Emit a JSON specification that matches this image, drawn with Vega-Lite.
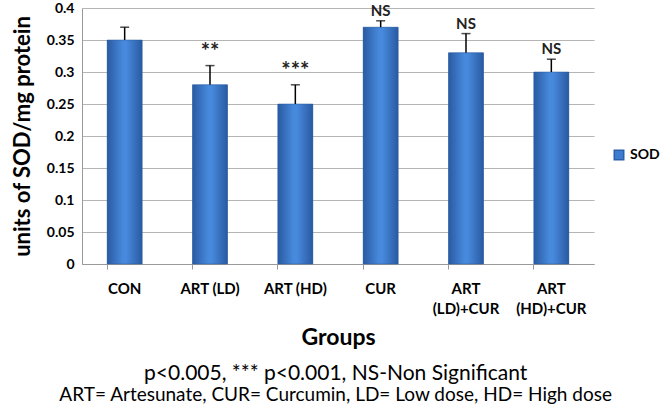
{
  "$schema": "https://vega.github.io/schema/vega-lite/v6.json",
  "width": 512,
  "height": 256,
  "padding": {"left": 11, "top": 1, "right": 0, "bottom": 0},
  "background": "white",
  "config": {
    "font": "Lato",
    "view": {"stroke": null}
  },
  "title": {
    "text": "p<0.005, *** p<0.001, NS-Non Significant",
    "subtitle": "ART= Artesunate, CUR= Curcumin, LD= Low dose, HD= High dose",
    "orient": "bottom",
    "anchor": "middle",
    "frame": "bounds",
    "font": "Lato",
    "fontSize": 21,
    "fontWeight": "normal",
    "color": "#000",
    "subtitleFont": "Lato",
    "subtitleFontSize": 19,
    "subtitleFontWeight": "normal",
    "subtitleColor": "#000",
    "subtitlePadding": 2,
    "offset": 14
  },
  "data": {
    "values": [
      {"group": "CON", "value": 0.35, "top": 0.37, "sig": "", "series": "SOD"},
      {"group": "ART (LD)", "value": 0.28, "top": 0.31, "sig": "**", "series": "SOD"},
      {"group": "ART (HD)", "value": 0.25, "top": 0.28, "sig": "***", "series": "SOD"},
      {"group": "CUR", "value": 0.37, "top": 0.38, "sig": "NS", "series": "SOD"},
      {"group": "ART|(LD)+CUR", "value": 0.33, "top": 0.36, "sig": "NS", "series": "SOD"},
      {"group": "ART|(HD)+CUR", "value": 0.30, "top": 0.32, "sig": "NS", "series": "SOD"}
    ]
  },
  "encoding": {
    "x": {
      "field": "group",
      "type": "nominal",
      "sort": null,
      "scale": {"paddingInner": 0.59, "paddingOuter": 0.295},
      "axis": {
        "title": "Groups",
        "titleFontSize": 23,
        "titleFontWeight": "bold",
        "titlePadding": 10,
        "labelAngle": 0,
        "labelFontSize": 15,
        "labelFontWeight": "bold",
        "labelColor": "#000",
        "labelExpr": "split(datum.label, '|')",
        "labelPadding": 12,
        "labelLineHeight": 20,
        "labelBaseline": "top",
        "bandPosition": 0,
        "domainColor": "#999",
        "tickColor": "#999",
        "tickSize": 5
      }
    },
    "y": {
      "field": "value",
      "type": "quantitative",
      "scale": {"domain": [0, 0.4]},
      "axis": {
        "title": "units of SOD/mg protein",
        "titleFontSize": 22,
        "titleFontWeight": "bold",
        "titlePadding": 12,
        "values": [0, 0.05, 0.1, 0.15, 0.2, 0.25, 0.3, 0.35, 0.4],
        "format": ".2~f",
        "labelFontSize": 14,
        "labelFontWeight": "bold",
        "labelColor": "#000",
        "gridColor": "#b5b5b5",
        "domainColor": "#999",
        "ticks": false,
        "labelPadding": 8
      }
    }
  },
  "layer": [
    {
      "mark": {"type": "bar"},
      "encoding": {
        "color": {
          "field": "series",
          "type": "nominal",
          "title": null,
          "scale": {"range": ["#3b7bd0"]},
          "legend": {
            "orient": "none",
            "legendX": 530,
            "legendY": 140,
            "symbolType": "square",
            "symbolSize": 90,
            "symbolStrokeColor": "#2c5fa8",
            "labelFontSize": 14,
            "labelFontWeight": "bold",
            "labelColor": "#000",
            "labelOffset": 4
          }
        }
      }
    },
    {
      "mark": {
        "type": "bar",
        "stroke": "#2a5a9a",
        "strokeWidth": 0.5,
        "color": {
          "gradient": "linear",
          "x1": 0, "y1": 0, "x2": 1, "y2": 0,
          "stops": [
            {"offset": 0, "color": "#2a5aa2"},
            {"offset": 0.45, "color": "#4789dc"},
            {"offset": 0.55, "color": "#4789dc"},
            {"offset": 1, "color": "#2a5aa2"}
          ]
        }
      }
    },
    {
      "mark": {"type": "rule", "color": "#000", "strokeWidth": 1.5},
      "encoding": {
        "y2": {"field": "top"}
      }
    },
    {
      "mark": {"type": "tick", "color": "#000", "thickness": 1.5, "size": 9},
      "encoding": {
        "y": {"field": "top", "type": "quantitative"}
      }
    },
    {
      "mark": {"type": "text", "baseline": "bottom", "dy": -2, "fontWeight": "bold", "color": "#222"},
      "encoding": {
        "y": {"field": "top", "type": "quantitative"},
        "text": {"field": "sig"},
        "size": {"condition": {"test": "datum.sig == 'NS'", "value": 15}, "value": 22}
      }
    }
  ]
}
